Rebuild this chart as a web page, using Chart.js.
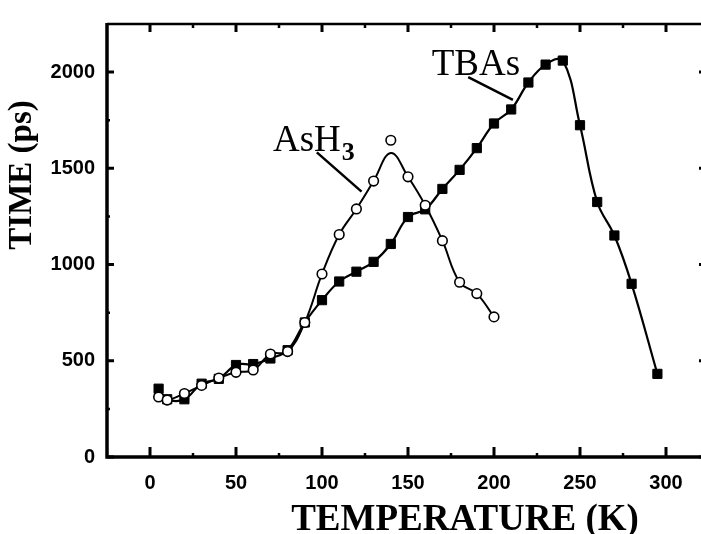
<!DOCTYPE html>
<html>
<head>
<meta charset="utf-8">
<script src="https://cdn.jsdelivr.net/npm/chart.js@4.4.1/dist/chart.umd.min.js"></script>
<style>
  html, body { margin: 0; padding: 0; background: #fff; overflow: hidden; }
  #wrap { position: relative; width: 720px; height: 534px; }
</style>
</head>
<body>
<div id="wrap"><canvas id="chart"></canvas></div>
<script>
// TBAs (filled squares)
const tbasTemp = [5, 10, 20, 30, 40, 50, 60, 70, 80, 90, 100, 110, 120, 130, 140, 150, 160, 170, 180, 190, 200, 210, 220, 230, 240, 250, 260, 270, 280, 295];
const tbasTime = [355, 300, 300, 381, 406, 478, 483, 512, 555, 699, 815, 912, 963, 1014, 1107, 1247, 1287, 1393, 1492, 1605, 1733, 1806, 1946, 2039, 2060, 1724, 1325, 1151, 900, 432];

// AsH3 (open circles)
const ash3Temp = [5, 10, 20, 30, 40, 50, 60, 70, 80, 90, 100, 110, 120, 130, 140, 150, 160, 170, 180, 190, 200];
const ash3Time = [312, 296, 330, 372, 410, 440, 452, 535, 548, 699, 951, 1156, 1289, 1434, 1646, 1456, 1308, 1124, 908, 849, 728];
// AsH3 fitted curve as drawn (its peak stays below the 140 K point)
const ash3CurveTime = [312, 296, 330, 372, 410, 440, 452, 535, 548, 699, 951, 1156, 1289, 1434, 1580, 1456, 1308, 1124, 908, 849, 728];

// axis ticks
const xTickLabels = [0, 50, 100, 150, 200, 250, 300];
const xMinorTicks = [25, 75, 125, 175, 225, 275];
const yTickLabels = [0, 500, 1000, 1500, 2000];
const yMinorTicks = [250, 750, 1250, 1750];

const SERIF = '"Liberation Serif", "Times New Roman", serif';
const SANS = '"Liberation Sans", Arial, sans-serif';

const pts = (xs, ys) => xs.map((x, i) => ({ x: x, y: ys[i] }));

// frame, inward ticks, curve labels and axis titles
const framePlugin = {
    id: 'frame',
    afterDraw(chart) {
        const ctx = chart.ctx;
        const xs = chart.scales.x;
        const ys = chart.scales.y;
        const a = chart.chartArea;
        ctx.save();
        ctx.strokeStyle = '#000';
        ctx.fillStyle = '#000';

        // ticks
        ctx.lineWidth = 3;
        xTickLabels.forEach(v => {
            const px = xs.getPixelForValue(v);
            ctx.beginPath();
            ctx.moveTo(px, a.bottom); ctx.lineTo(px, a.bottom - 10);
            ctx.moveTo(px, a.top); ctx.lineTo(px, a.top + 8);
            ctx.stroke();
        });
        yTickLabels.forEach(v => {
            const py = ys.getPixelForValue(v);
            ctx.beginPath();
            ctx.moveTo(a.left, py); ctx.lineTo(a.left + 7, py);
            ctx.moveTo(a.right, py); ctx.lineTo(a.right - 10, py);
            ctx.stroke();
        });
        ctx.lineWidth = 2.5;
        xMinorTicks.forEach(v => {
            const px = xs.getPixelForValue(v);
            ctx.beginPath();
            ctx.moveTo(px, a.bottom); ctx.lineTo(px, a.bottom - 4);
            ctx.moveTo(px, a.top); ctx.lineTo(px, a.top + 4);
            ctx.stroke();
        });
        yMinorTicks.forEach(v => {
            const py = ys.getPixelForValue(v);
            ctx.beginPath();
            ctx.moveTo(a.left, py); ctx.lineTo(a.left + 3, py);
            ctx.moveTo(a.right, py); ctx.lineTo(a.right - 4, py);
            ctx.stroke();
        });

        // frame
        ctx.lineWidth = 2.5;
        ctx.beginPath();
        ctx.moveTo(a.left, a.top); ctx.lineTo(a.right, a.top);
        ctx.stroke();
        ctx.lineWidth = 3.5;
        ctx.beginPath();
        ctx.moveTo(a.left, a.top - 1); ctx.lineTo(a.left, a.bottom);
        ctx.lineTo(a.right, a.bottom);
        ctx.stroke();

        // leader lines
        ctx.lineWidth = 2.5;
        ctx.beginPath();
        ctx.moveTo(xs.getPixelForValue(97), ys.getPixelForValue(1583));
        ctx.lineTo(xs.getPixelForValue(123), ys.getPixelForValue(1379));
        ctx.moveTo(xs.getPixelForValue(185), ys.getPixelForValue(1974));
        ctx.lineTo(xs.getPixelForValue(211), ys.getPixelForValue(1856));
        ctx.stroke();

        // curve labels
        ctx.textAlign = 'left';
        ctx.textBaseline = 'alphabetic';
        ctx.font = '37px ' + SERIF;
        const ahX = xs.getPixelForValue(71.5);
        const ahY = ys.getPixelForValue(1592);
        ctx.fillText('AsH', ahX, ahY);
        const ahW = ctx.measureText('AsH').width;
        ctx.font = 'bold 26px ' + SERIF;
        ctx.fillText('3', ahX + ahW + 1, ahY + 9);
        ctx.font = '37px ' + SERIF;
        ctx.fillText('TBAs', xs.getPixelForValue(163.8), ys.getPixelForValue(1985));

        // axis titles
        ctx.font = 'bold 37px ' + SERIF;
        ctx.textAlign = 'center';
        ctx.fillText('TEMPERATURE (K)', 465, 530);
        ctx.save();
        ctx.translate(31, 175);
        ctx.rotate(-Math.PI / 2);
        ctx.font = 'bold 33px ' + SERIF;
        ctx.fillText('TIME (ps)', 0, 0);
        ctx.restore();

        ctx.restore();
    }
};

new Chart(document.getElementById('chart'), {
    type: 'line',
    data: {
        datasets: [
            {
                label: 'AsH3',
                data: pts(ash3Temp, ash3Time),
                showLine: false,
                pointStyle: 'circle',
                pointRadius: 4.8,
                pointBackgroundColor: '#fff',
                pointBorderColor: '#000',
                pointBorderWidth: 1.6,
                order: 0
            },
            {
                label: 'TBAs',
                data: pts(tbasTemp, tbasTime),
                borderColor: '#000',
                borderWidth: 2.2,
                tension: 0.4,
                pointStyle: 'rect',
                pointRadius: 6.5,
                pointBackgroundColor: '#000',
                pointBorderColor: '#000',
                pointBorderWidth: 1,
                order: 1
            },
            {
                label: 'AsH3 curve',
                data: pts(ash3Temp, ash3CurveTime),
                borderColor: '#000',
                borderWidth: 2,
                tension: 0.4,
                pointRadius: 0,
                order: 2
            }
        ]
    },
    options: {
        responsive: true,
        maintainAspectRatio: false,
        animation: false,
        events: [],
        layout: { padding: { top: 16, right: 11, left: 0, bottom: 0 } },
        plugins: {
            legend: { display: false },
            tooltip: { enabled: false }
        },
        scales: {
            x: {
                type: 'linear',
                min: -25,
                max: 325,
                grid: { display: false, drawTicks: false },
                border: { display: false },
                afterBuildTicks: s => { s.ticks = xTickLabels.map(v => ({ value: v })); },
                afterFit: s => { s.height = 77; },
                ticks: {
                    color: '#000',
                    padding: 14,
                    maxRotation: 0,
                    callback: v => String(v),
                    font: { family: SANS, weight: 'bold', size: 20 }
                }
            },
            y: {
                type: 'linear',
                min: 0,
                max: 2250,
                grid: { display: false, drawTicks: false },
                border: { display: false },
                afterBuildTicks: s => { s.ticks = yTickLabels.map(v => ({ value: v })); },
                afterFit: s => { s.width = 107; },
                ticks: {
                    color: '#000',
                    padding: 12,
                    callback: v => String(v),
                    font: { family: SANS, weight: 'bold', size: 20 }
                }
            }
        }
    },
    plugins: [framePlugin]
});
</script>
</body>
</html>
